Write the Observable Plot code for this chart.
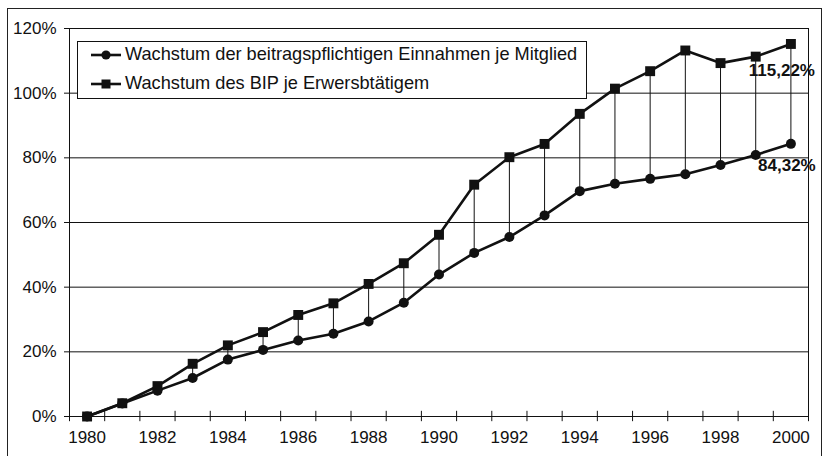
<!DOCTYPE html>
<html><head><meta charset="utf-8">
<script src="https://cdn.jsdelivr.net/npm/d3@7"></script>
<script src="https://cdn.jsdelivr.net/npm/@observablehq/plot@0.6"></script>
<style>
body{margin:0;background:#fff;overflow:hidden;}
#wrap{position:relative;width:825px;height:456px;font-family:"Liberation Sans",Arial,sans-serif;}
#frame{position:absolute;left:7px;top:8px;width:815px;height:460px;border:1.5px solid #222;box-sizing:border-box;pointer-events:none;}
#legend{position:absolute;left:77px;top:41px;width:510px;height:58px;border:1px solid #111;background:#fff;box-sizing:border-box;font-size:18.2px;line-height:21px;color:#111;}
.item{position:absolute;left:12px;display:flex;align-items:center;white-space:nowrap;}
.item svg{margin-right:3px;}
</style></head>
<body>
<div id="wrap"><div id="frame"></div></div>
<script>
const years = [1980,1981,1982,1983,1984,1985,1986,1987,1988,1989,1990,1991,1992,1993,1994,1995,1996,1997,1998,1999,2000];
const einnahmen = [0, 4.0, 8.0, 11.9, 17.6, 20.6, 23.5, 25.6, 29.4, 35.2, 43.9, 50.6, 55.5, 62.2, 69.7, 72.0, 73.5, 74.9, 77.8, 80.9, 84.32];
const bip = [0, 4.1, 9.4, 16.3, 22.0, 26.1, 31.4, 35.0, 41.0, 47.4, 56.2, 71.7, 80.2, 84.3, 93.6, 101.4, 106.8, 113.2, 109.3, 111.3, 115.22];
const yTicks = [0, 20, 40, 60, 80, 100, 120];
const xLabels = [1980,1982,1984,1986,1988,1990,1992,1994,1996,1998,2000];
const seriesNames = ["Wachstum der beitragspflichtigen Einnahmen je Mitglied", "Wachstum des BIP je Erwersbtätigem"];
const endLabels = ["84,32%", "115,22%"];

const data = years.map((y, i) => ({year: y, einnahmen: einnahmen[i], bip: bip[i]}));
const boundaries = years.map(y => y - 0.5).concat([years[years.length-1] + 0.5]);
const last = data[data.length - 1];

const chart = Plot.plot({
  width: 825, height: 456,
  marginLeft: 69, marginRight: 17, marginTop: 28, marginBottom: 40,
  style: {fontFamily: '"Liberation Sans", Arial, sans-serif', fontSize: "17px", color: "#111", background: "transparent"},
  x: {domain: [1979.5, 2000.5], axis: null},
  y: {domain: [0, 120], axis: null},
  marks: [
    Plot.ruleY(yTicks, {stroke: "#111", strokeWidth: 1}),
    Plot.frame({stroke: "#111", strokeWidth: 1}),
    Plot.axisY(yTicks, {tickFormat: d => d + "%", tickSize: 5, tickPadding: 8, label: null, stroke: "#111", fill: "#111"}),
    Plot.ruleX(boundaries, {y1: -1.6, y2: 1.6, stroke: "#111", strokeWidth: 1}),
    Plot.axisX(xLabels, {tickFormat: d => String(d), tickSize: 0, tickPadding: 14, label: null, fill: "#111"}),
    Plot.ruleX(data, {x: "year", y1: "einnahmen", y2: "bip", stroke: "#111", strokeWidth: 1}),
    Plot.line(data, {x: "year", y: "bip", stroke: "#111", strokeWidth: 2.6}),
    Plot.line(data, {x: "year", y: "einnahmen", stroke: "#111", strokeWidth: 2.6}),
    Plot.dot(data, {x: "year", y: "bip", symbol: "square", r: 5.6, fill: "#111", stroke: "none"}),
    Plot.dot(data, {x: "year", y: "einnahmen", symbol: "circle", r: 5, fill: "#111", stroke: "none"}),
    Plot.text([last], {x: "year", y: "bip", text: () => endLabels[1], dx: -9, dy: 27, fontWeight: "bold", fill: "#111", textAnchor: "middle", fontSize: 17}),
    Plot.text([last], {x: "year", y: "einnahmen", text: () => endLabels[0], dx: -4, dy: 22, fontWeight: "bold", fill: "#111", textAnchor: "middle", fontSize: 17})
  ]
});
const wrap = document.getElementById("wrap");
wrap.insertBefore(chart, wrap.firstChild);

const legend = document.createElement("div");
legend.id = "legend";
const symbols = [
  '<svg width="32" height="12"><line x1="1" y1="6" x2="31" y2="6" stroke="#111" stroke-width="2.6"/><circle cx="16" cy="6" r="4.6" fill="#111"/></svg>',
  '<svg width="32" height="12"><line x1="1" y1="6" x2="31" y2="6" stroke="#111" stroke-width="2.6"/><rect x="11.5" y="1.5" width="9" height="9" fill="#111"/></svg>'
];
seriesNames.forEach((name, i) => {
  const it = document.createElement("div");
  it.className = "item";
  it.style.top = (i === 0 ? 2 : 31) + "px";
  it.innerHTML = symbols[i] + "<span>" + name + "</span>";
  legend.appendChild(it);
});
wrap.appendChild(legend);
</script>
</body></html>
